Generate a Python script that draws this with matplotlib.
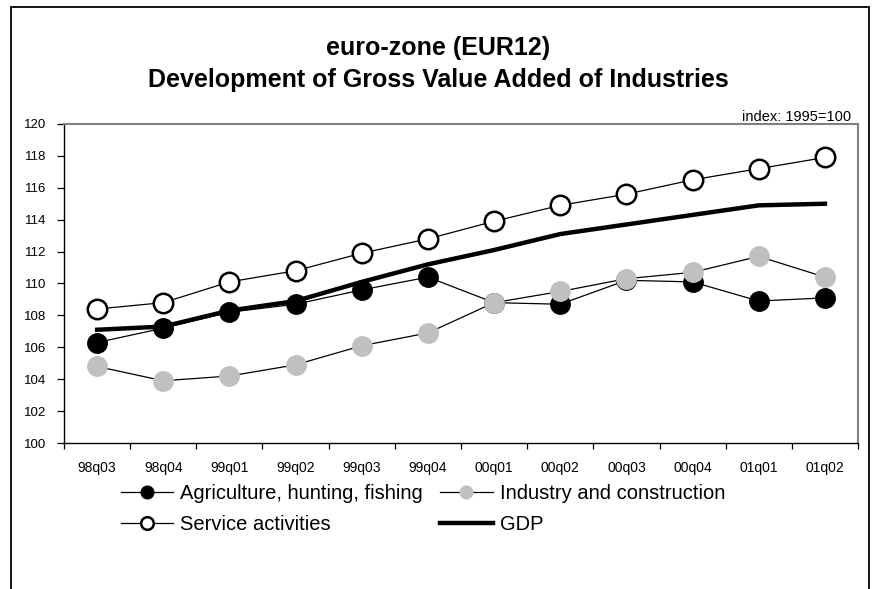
import matplotlib
matplotlib.use("Agg")
import matplotlib.pyplot as plt
from matplotlib.patches import Rectangle
from matplotlib.ticker import FixedLocator

plt.rcParams['font.family'] = ['Liberation Sans', 'DejaVu Sans']

quarters = ["98q03", "98q04", "99q01", "99q02", "99q03", "99q04",
            "00q01", "00q02", "00q03", "00q04", "01q01", "01q02"]
agriculture = [106.3, 107.2, 108.2, 108.7, 109.6, 110.4, 108.8, 108.7, 110.2, 110.1, 108.9, 109.1]
industry = [104.8, 103.9, 104.2, 104.9, 106.1, 106.9, 108.8, 109.5, 110.3, 110.7, 111.7, 110.4]
services = [108.4, 108.8, 110.1, 110.8, 111.9, 112.8, 113.9, 114.9, 115.6, 116.5, 117.2, 117.9]
gdp = [107.1, 107.3, 108.3, 108.9, 110.1, 111.2, 112.1, 113.1, 113.7, 114.3, 114.9, 115.0]
yticks = list(range(100, 121, 2))

W, H = 877, 589
fig = plt.figure(figsize=(W / 100, H / 100), dpi=100)
fig.patch.set_facecolor("white")

# outer frame
fig.patches.append(Rectangle((11 / W, -0.05), (869 - 11) / W, 1.05 - 7 / H,
                             transform=fig.transFigure, fill=False,
                             edgecolor="black", linewidth=1.3))

ax = fig.add_axes([64 / W, 1 - 443 / H, (858 - 64) / W, (443 - 124) / H])
x = list(range(len(quarters)))

h_agri, = ax.plot(x, agriculture, color="black", linewidth=0.9, marker="o", markersize=14,
                  markerfacecolor="black", markeredgecolor="black",
                  label="Agriculture, hunting, fishing", zorder=3)
h_ind, = ax.plot(x, industry, color="black", linewidth=0.9, marker="o", markersize=14,
                 markerfacecolor="#c0c0c0", markeredgecolor="#c0c0c0",
                 label="Industry and construction", zorder=3)
h_serv, = ax.plot(x, services, color="black", linewidth=0.9, marker="o", markersize=14,
                  markerfacecolor="white", markeredgecolor="black", markeredgewidth=1.8,
                  label="Service activities", zorder=3)
h_gdp, = ax.plot(x, gdp, color="black", linewidth=3.2, label="GDP", zorder=4)

ax.set_xlim(-0.5, len(quarters) - 0.5)
ax.set_ylim(100, 120)
ax.set_yticks(yticks)
ax.set_yticklabels([str(v) for v in yticks], fontsize=9.5)
ax.set_xticks(x)
ax.set_xticklabels(quarters, fontsize=10)
ax.xaxis.set_minor_locator(FixedLocator([i - 0.5 for i in range(len(quarters) + 1)]))
ax.tick_params(axis="x", which="major", length=0, pad=13)
ax.tick_params(axis="x", which="minor", length=4, direction="out", width=0.9)
ax.tick_params(axis="y", length=5, direction="out", width=0.9, pad=8)

for side in ("top", "right"):
    ax.spines[side].set_color("#808080")
    ax.spines[side].set_linewidth(1.5)
for side in ("left", "bottom"):
    ax.spines[side].set_color("black")
    ax.spines[side].set_linewidth(1.0)

fig.text(0.5, 1 - 48 / H, "euro-zone (EUR12)", ha="center", va="center",
         fontsize=18, fontweight="bold")
fig.text(0.5, 1 - 80 / H, "Development of Gross Value Added of Industries", ha="center",
         va="center", fontsize=18, fontweight="bold")
fig.text(851 / W, 1 - 117 / H, "index: 1995=100", ha="right", va="center", fontsize=10.5)

handles = [h_agri, h_serv, h_ind, h_gdp]
leg = fig.legend(handles, [h.get_label() for h in handles],
                 loc="upper left", bbox_to_anchor=(121 / W, 1 - 484 / H), ncol=2,
                 frameon=False, fontsize=14.5, markerscale=0.65, handlelength=2.6,
                 handletextpad=0.35, columnspacing=0.85, labelspacing=0.62,
                 borderaxespad=0, borderpad=0)

fig.savefig("out.png", dpi=100, facecolor="white")
